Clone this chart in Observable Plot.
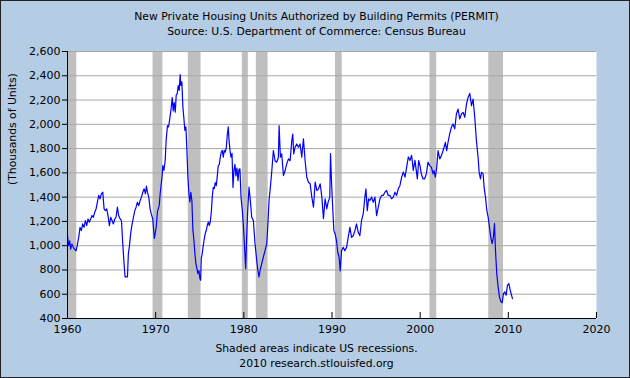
<!DOCTYPE html>
<html><head><meta charset="utf-8">
<script src="https://cdn.jsdelivr.net/npm/d3@7"></script>
<script src="https://cdn.jsdelivr.net/npm/@observablehq/plot@0.6"></script>
<style>body{margin:0;background:#fff;} #chart svg{display:block;}</style>
</head><body><div id="chart"></div>
<script>
const titleLines = ["New Private Housing Units Authorized by Building Permits (PERMIT)", "Source: U.S. Department of Commerce: Census Bureau"];
const footerLines = ["Shaded areas indicate US recessions.", "2010 research.stlouisfed.org"];
const yLabel = "(Thousands of Units)";
const xTicks = [1960, 1970, 1980, 1990, 2000, 2010, 2020];
const yTicks = [400, 600, 800, 1000, 1200, 1400, 1600, 1800, 2000, 2200, 2400, 2600];

const recessionStart = [1960.0, 1969.7, 1973.7, 1979.83, 1981.42, 1990.4, 2001.11, 2007.78];
const recessionEnd   = [1961.05, 1970.82, 1975.15, 1980.51, 1982.75, 1991.16, 2001.88, 2009.45];

const permits1960s = [[1960.0,1082],[1960.13,1000],[1960.25,1040],[1960.36,972],[1960.5,1013],[1960.66,986],[1960.8,972],[1960.97,958],[1961.1,1000],[1961.27,1069],[1961.42,1151],[1961.57,1124],[1961.72,1179],[1961.87,1151],[1962.03,1207],[1962.18,1165],[1962.33,1220],[1962.48,1193],[1962.63,1220],[1962.78,1248],[1962.93,1234],[1963.09,1276],[1963.24,1303],[1963.39,1358],[1963.54,1414],[1963.69,1386],[1963.84,1427],[1964.0,1441],[1964.15,1303],[1964.3,1289],[1964.45,1303],[1964.6,1248],[1964.75,1165],[1964.9,1234],[1965.05,1207],[1965.2,1179],[1965.36,1220],[1965.5,1234],[1965.66,1317],[1965.8,1248],[1965.97,1220],[1966.12,1207],[1966.27,1013],[1966.42,848],[1966.53,743],[1966.8,743],[1966.9,930],[1967.03,1000],[1967.18,1110],[1967.33,1179],[1967.48,1234],[1967.63,1289],[1967.78,1317],[1967.93,1358],[1968.08,1330],[1968.24,1372],[1968.39,1400],[1968.54,1441],[1968.69,1469],[1968.84,1427],[1968.95,1490],[1969.07,1441],[1969.22,1400],[1969.37,1303],[1969.5,1262],[1969.67,1220],[1969.85,1060]];
const permits1970s = [[1970.06,1150],[1970.2,1280],[1970.4,1330],[1970.51,1430],[1970.62,1500],[1970.74,1580],[1970.81,1660],[1970.93,1620],[1971.08,1700],[1971.19,1870],[1971.34,1990],[1971.46,1980],[1971.57,2030],[1971.72,2110],[1971.88,2220],[1971.99,2110],[1972.1,2180],[1972.22,2100],[1972.33,2240],[1972.44,2250],[1972.56,2320],[1972.67,2280],[1972.78,2410],[1972.86,2320],[1972.97,2350],[1973.09,2140],[1973.2,2050],[1973.31,1950],[1973.43,1980],[1973.54,1790],[1973.66,1560],[1973.77,1430],[1973.88,1360],[1973.99,1440],[1974.11,1370],[1974.22,1130],[1974.34,1045],[1974.45,935],[1974.57,850],[1974.68,810],[1974.79,770],[1974.9,795],[1975.02,730],[1975.1,715],[1975.17,895],[1975.28,935],[1975.4,1000],[1975.51,1055],[1975.62,1100],[1975.74,1125],[1975.85,1165],[1975.97,1195],[1976.08,1165],[1976.19,1195],[1976.31,1275],[1976.42,1400],[1976.53,1480],[1976.65,1470],[1976.76,1520],[1976.88,1495],[1976.99,1575],[1977.1,1660],[1977.22,1670],[1977.33,1730],[1977.44,1770],[1977.56,1785],[1977.67,1730],[1977.78,1785],[1977.9,1770],[1978.01,1810],[1978.13,1920],[1978.24,1980],[1978.31,1880],[1978.43,1785],[1978.54,1730],[1978.66,1760],[1978.77,1480],[1978.88,1620],[1978.99,1670],[1979.11,1575],[1979.22,1640],[1979.34,1535],[1979.45,1630],[1979.56,1633],[1979.68,1400],[1979.83,1290],[1979.94,1180]];
const permits1980s = [[1980.06,1016],[1980.21,810],[1980.32,1071],[1980.44,1290],[1980.59,1482],[1980.74,1373],[1980.89,1236],[1981.08,1208],[1981.27,1016],[1981.46,880],[1981.57,810],[1981.72,742],[1981.88,810],[1982.03,852],[1982.22,907],[1982.41,962],[1982.6,1016],[1982.71,1153],[1982.86,1373],[1983.01,1482],[1983.16,1605],[1983.35,1784],[1983.54,1700],[1983.73,1688],[1983.92,1729],[1984.0,1989],[1984.15,1729],[1984.3,1756],[1984.49,1578],[1984.68,1619],[1984.87,1674],[1985.06,1715],[1985.25,1700],[1985.44,1866],[1985.55,1920],[1985.66,1756],[1985.81,1811],[1986.0,1838],[1986.19,1811],[1986.38,1838],[1986.57,1729],[1986.76,1880],[1986.95,1700],[1987.14,1564],[1987.33,1523],[1987.52,1510],[1987.71,1400],[1987.9,1318],[1988.09,1523],[1988.28,1455],[1988.47,1468],[1988.66,1510],[1988.85,1400],[1989.03,1222],[1989.22,1386],[1989.41,1304],[1989.56,1358],[1989.75,1400],[1989.83,1759],[1989.94,1538]];
const permits1990s = [[1990.06,1345],[1990.21,1124],[1990.36,1096],[1990.51,1041],[1990.66,944],[1990.81,903],[1990.93,793],[1991.08,958],[1991.27,986],[1991.46,958],[1991.65,986],[1991.84,1069],[1992.03,1151],[1992.22,1069],[1992.41,1082],[1992.6,1124],[1992.78,1179],[1992.97,1110],[1993.16,1082],[1993.35,1207],[1993.54,1262],[1993.73,1400],[1993.85,1469],[1994.0,1289],[1994.15,1386],[1994.3,1372],[1994.49,1400],[1994.68,1358],[1994.87,1400],[1995.06,1248],[1995.25,1317],[1995.44,1386],[1995.63,1414],[1995.81,1414],[1996.0,1441],[1996.19,1455],[1996.38,1414],[1996.57,1414],[1996.76,1386],[1996.95,1400],[1997.14,1441],[1997.33,1414],[1997.52,1469],[1997.71,1496],[1997.9,1565],[1998.09,1607],[1998.28,1565],[1998.47,1648],[1998.66,1731],[1998.85,1703],[1999.03,1745],[1999.22,1621],[1999.41,1703],[1999.56,1619],[1999.68,1551],[1999.83,1701],[1999.98,1660]];
const permits2000s = [[2000.13,1592],[2000.32,1551],[2000.51,1551],[2000.7,1592],[2000.89,1688],[2001.08,1660],[2001.27,1647],[2001.46,1592],[2001.57,1619],[2001.72,1564],[2001.88,1647],[2002.03,1784],[2002.22,1715],[2002.41,1742],[2002.6,1784],[2002.71,1811],[2002.86,1852],[2003.01,1784],[2003.16,1852],[2003.35,1921],[2003.54,1975],[2003.73,2003],[2003.92,1962],[2004.11,2085],[2004.3,2126],[2004.49,2044],[2004.68,2085],[2004.87,2099],[2005.06,2058],[2005.25,2167],[2005.44,2222],[2005.63,2255],[2005.82,2153],[2006.0,2208],[2006.19,2058],[2006.38,1866],[2006.57,1729],[2006.69,1605],[2006.84,1551],[2006.95,1605],[2007.14,1592],[2007.25,1482],[2007.41,1400],[2007.56,1290],[2007.71,1236],[2007.86,1153],[2008.01,1071],[2008.16,1016],[2008.31,1071],[2008.43,1181],[2008.54,962],[2008.69,770],[2008.84,660],[2008.99,578],[2009.15,540],[2009.3,530],[2009.45,605],[2009.6,619],[2009.75,592],[2009.9,674],[2010.06,688],[2010.21,633],[2010.36,592],[2010.47,564]];

const series = [...permits1960s, ...permits1970s, ...permits1980s, ...permits1990s, ...permits2000s]
  .map(([t, v]) => ({t, v}));
const recessions = recessionStart.map((s, i) => ({s, e: recessionEnd[i]}));

const FONT = "DejaVu Sans";
const TXT = 10.8;
const chart = Plot.plot({
  width: 630, height: 378,
  marginLeft: 67, marginRight: 34, marginTop: 51, marginBottom: 60,
  style: `background:#b4cce4;font-family:'${FONT}';font-size:11px;color:#000;outline:1px solid #222;outline-offset:-1px;`,
  x: {domain: [1960, 2020]},
  y: {domain: [400, 2600]},
  marks: [
    Plot.frame({fill: "white", stroke: "none"}),
    Plot.rect(recessions, {x1: "s", x2: "e", fill: "#bfbfbf"}),
    Plot.gridY(yTicks, {stroke: "#a8a8a8", strokeOpacity: 1}),
    Plot.line(series, {x: "t", y: "v", stroke: "#0000ff", strokeWidth: 1.2}),
    Plot.ruleY([400], {stroke: "#000"}),
    Plot.ruleX([1960], {stroke: "#000"}),
    Plot.tickX(xTicks, {x: d => d, stroke: "#000", insetTop: 261}),
    Plot.axisY({ticks: yTicks, tickSize: 5, tickPadding: 2, tickFormat: d3.format(","), label: null, fontSize: 11}),
    Plot.axisX({ticks: xTicks, tickSize: 0, tickPadding: 7, tickFormat: d => String(d), label: null, fontSize: 11}),
    Plot.text([titleLines[0]], {frameAnchor: "top", text: d => d, dx: -15.5, dy: -39, fontSize: TXT, fill: "#000"}),
    Plot.text([titleLines[1]], {frameAnchor: "top", text: d => d, dx: -15.5, dy: -24, fontSize: TXT, fill: "#000"}),
    Plot.text([footerLines[0]], {frameAnchor: "bottom", text: d => d, dx: -15.5, dy: 33, fontSize: TXT, fill: "#000"}),
    Plot.text([footerLines[1]], {frameAnchor: "bottom", text: d => d, dx: -15.5, dy: 48, fontSize: TXT, fill: "#000"}),
    Plot.text([yLabel], {frameAnchor: "left", text: d => d, rotate: -90, dx: -55, fontSize: TXT, fill: "#000"})
  ]
});
document.getElementById("chart").appendChild(chart);
</script>
</body></html>
